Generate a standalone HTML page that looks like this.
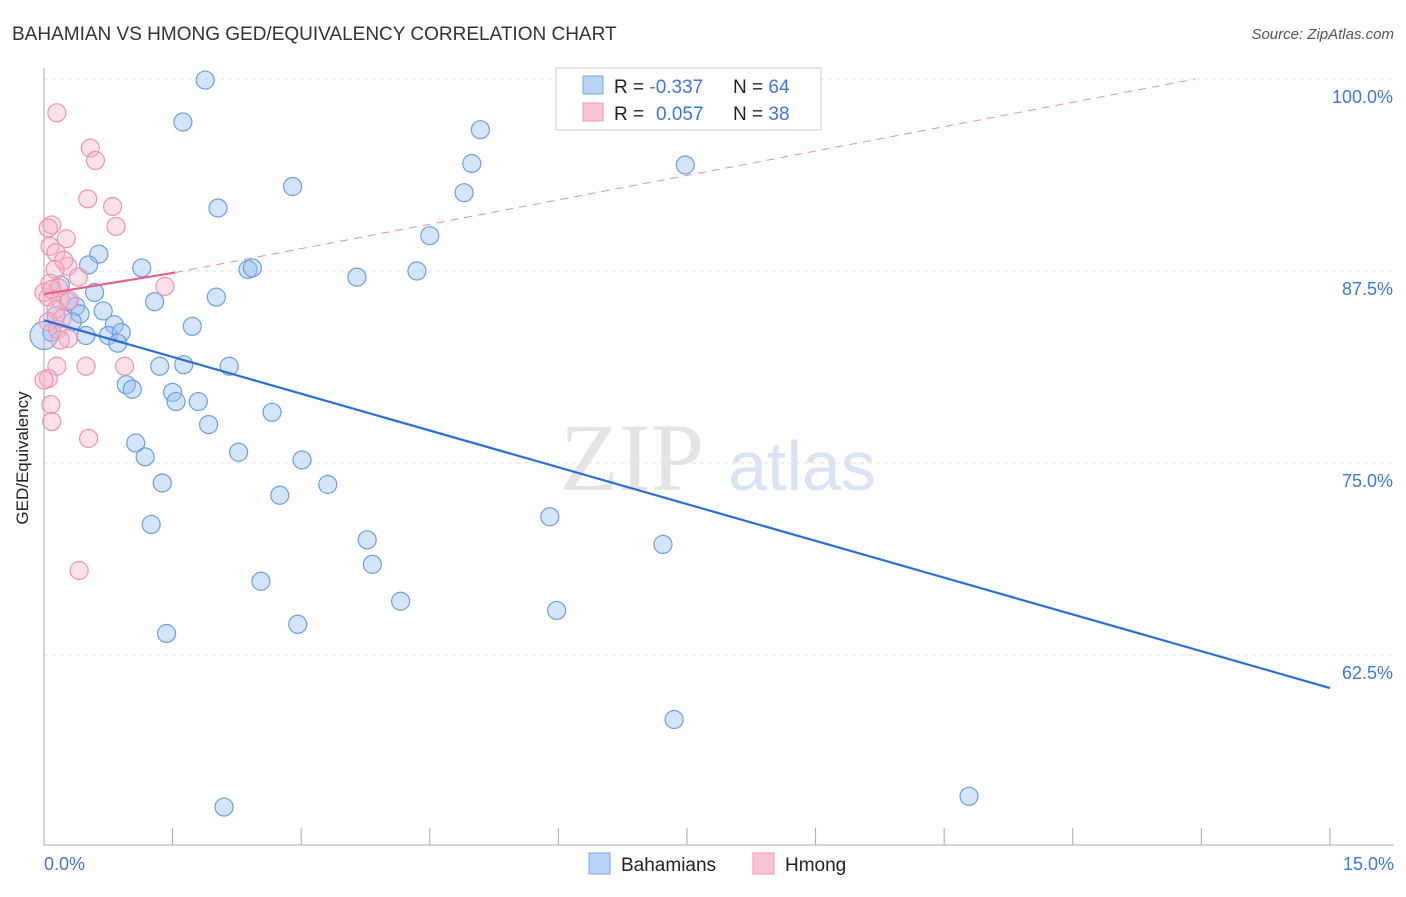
<!DOCTYPE html>
<html><head><meta charset="utf-8"><style>
body{margin:0;background:#fff;font-family:"Liberation Sans",sans-serif}
</style></head><body>
<svg width="1406" height="892" viewBox="0 0 1406 892" xmlns="http://www.w3.org/2000/svg">
<text x="12" y="40" font-size="19" fill="#333">BAHAMIAN VS HMONG GED/EQUIVALENCY CORRELATION CHART</text>
<text x="1394" y="39" font-size="15" fill="#555" font-style="italic" text-anchor="end">Source: ZipAtlas.com</text>
<g><text x="632" y="490" font-size="96" font-family="Liberation Serif" fill="#e4e4e4" text-anchor="middle">ZIP</text><text x="802" y="490" font-size="70" fill="#d8e4f4" text-anchor="middle">atlas</text></g>
<g id="grid"></g>
<line x1="44" y1="68" x2="44" y2="845" stroke="#aaa"/>
<line x1="44" y1="845" x2="1394" y2="845" stroke="#aaa"/>
<g id="ticks"></g>
<text x="28" y="458" font-size="17" fill="#222" text-anchor="middle" transform="rotate(-90 28 458)">GED/Equivalency</text>
<text x="44" y="870" font-size="18" fill="#3b78d8">0.0%</text>
<text x="1394" y="870" font-size="18" fill="#3b78d8" text-anchor="end">15.0%</text>
<g id="pts"></g>
<g id="lines"></g>
<g>
<rect x="556" y="68" width="265" height="62" fill="#fff" stroke="#ccc"/>
<rect x="583" y="76" width="20" height="18" fill="#b8d3f6" stroke="#7aa7e6"/>
<rect x="583" y="103" width="20" height="18" fill="#f9c4d3" stroke="#ee9ab4"/>
<text x="614" y="93" font-size="19" fill="#222">R = <tspan fill="#3b78d8">-0.337</tspan><tspan x="733">N = </tspan><tspan fill="#3b78d8">64</tspan></text>
<text x="614" y="120" font-size="19" fill="#222">R = <tspan fill="#3b78d8" x="656">0.057</tspan><tspan x="733">N = </tspan><tspan fill="#3b78d8">38</tspan></text>
</g>
<g>
<rect x="589" y="853" width="21" height="21" fill="#b8d3f6" stroke="#7aa7e6"/>
<text x="621" y="871" font-size="19" fill="#222">Bahamians</text>
<rect x="753" y="853" width="21" height="21" fill="#f9c4d3" stroke="#ee9ab4"/>
<text x="785" y="871" font-size="19" fill="#222">Hmong</text>
</g>
</svg>
<script>
const yTicks=[100,87.5,75,62.5];
const yTickLabels=["100.0%","87.5%","75.0%","62.5%"];
const xTicks=[0,1.5,3,4.5,6,7.5,9,10.5,12,13.5,15];
const blueX=[1.88,1.62,5.09,4.99,7.48,2.90,4.90,2.03,4.50,0.64,0.52,1.14,2.38,2.43,4.35,3.65,0.19,0.59,2.01,1.29,0.28,0.37,0.69,0.42,0.14,0.33,0.82,1.73,0.09,0.49,0.75,0.90,0.86,1.35,1.63,2.16,0.96,1.03,1.50,1.54,1.80,2.66,1.92,1.07,1.18,2.27,3.01,1.38,3.31,2.75,1.25,5.90,3.77,7.22,3.83,2.53,4.16,5.98,2.96,1.43,7.35,2.10,10.79,0];
const blueY=[99.93,97.2,96.7,94.5,94.4,93.0,92.6,91.6,89.8,88.6,87.9,87.7,87.6,87.7,87.5,87.1,86.6,86.1,85.8,85.5,85.5,85.2,84.9,84.7,84.6,84.2,84.0,83.9,83.5,83.3,83.3,83.5,82.8,81.3,81.4,81.3,80.1,79.8,79.6,79.0,79.0,78.3,77.5,76.3,75.4,75.7,75.2,73.7,73.6,72.9,71.0,71.5,70.0,69.7,68.4,67.3,66.0,65.4,64.5,63.9,58.3,52.6,53.3,83.3];
const pinkX=[0.15,0.54,0.60,0.51,0.80,0.84,0.09,0.05,0.26,0.07,0.14,0.28,0.40,0.13,0.07,0.17,1.41,0.05,0.19,0.14,0.05,0.16,0.28,0.19,0.15,0.49,0.94,0.05,0.08,0.09,0.52,0.41,0.23,0.30,0,0.09,0.21,0];
const pinkY=[97.8,95.5,94.7,92.2,91.7,90.4,90.5,90.3,89.6,89.1,88.7,87.8,87.1,87.6,86.7,86.4,86.5,85.8,85.6,85.0,84.2,83.7,83.1,83.0,81.3,81.3,81.3,80.5,78.8,77.7,76.6,68.0,88.2,85.6,86.1,86.3,84.4,80.4];
const blueTrend=[[0,84.3],[15,60.35]];
const pinkTrend=[[0,86.0],[1.53,87.4]];
const pinkDash=[[1.53,87.4],[13.43,100]];
const NS="http://www.w3.org/2000/svg";
const sx=v=>44+v*85.73, sy=v=>79+(100-v)*15.36;
function mk(t,a,p){const e=document.createElementNS(NS,t);for(const k in a)e.setAttribute(k,a[k]);document.getElementById(p).appendChild(e);return e;}
yTicks.forEach((v,i)=>{
 const l=mk('line',{x1:44,x2:1394,y1:sy(v),y2:sy(v),stroke:'#e2e2e2','stroke-dasharray':'4,4'},'grid');
 
 
 const t=mk('text',{x:1393,y:sy(v)+24,'font-size':18,fill:'#3b78d8','text-anchor':'end'},'grid');
 t.textContent=yTickLabels[i];
 
 
});
xTicks.forEach(v=>{
 const l=mk('line',{x1:sx(v),x2:sx(v),y1:828,y2:845,stroke:'#aaa'},'ticks');
 
 
});
blueX.forEach((x,i)=>{
 const c=mk('circle',{cx:sx(x),cy:sy(blueY[i]),r:(i===blueX.length-1?14:9),fill:'rgba(150,190,240,0.4)',stroke:'#6a9fe4','stroke-width':1.2},'pts');
 
 
});
pinkX.forEach((x,i)=>{
 const c=mk('circle',{cx:sx(x),cy:sy(pinkY[i]),r:9,fill:'rgba(248,180,200,0.4)',stroke:'#ee94b0','stroke-width':1.2},'pts');
 
 
});
function ln(p,st,w,d,name){const l=mk('line',{x1:sx(p[0][0]),y1:sy(p[0][1]),x2:sx(p[1][0]),y2:sy(p[1][1]),stroke:st,'stroke-width':w,'stroke-dasharray':d},'lines');
 
 }
ln(blueTrend,'#2a6fd6',2.2,'none','bahamian-trendline');
ln(pinkTrend,'#e8608a',2.2,'none','hmong-trendline');
ln(pinkDash,'#eb8fab',1,'8,6','hmong-trendline-extension');
</script>
</body></html>
